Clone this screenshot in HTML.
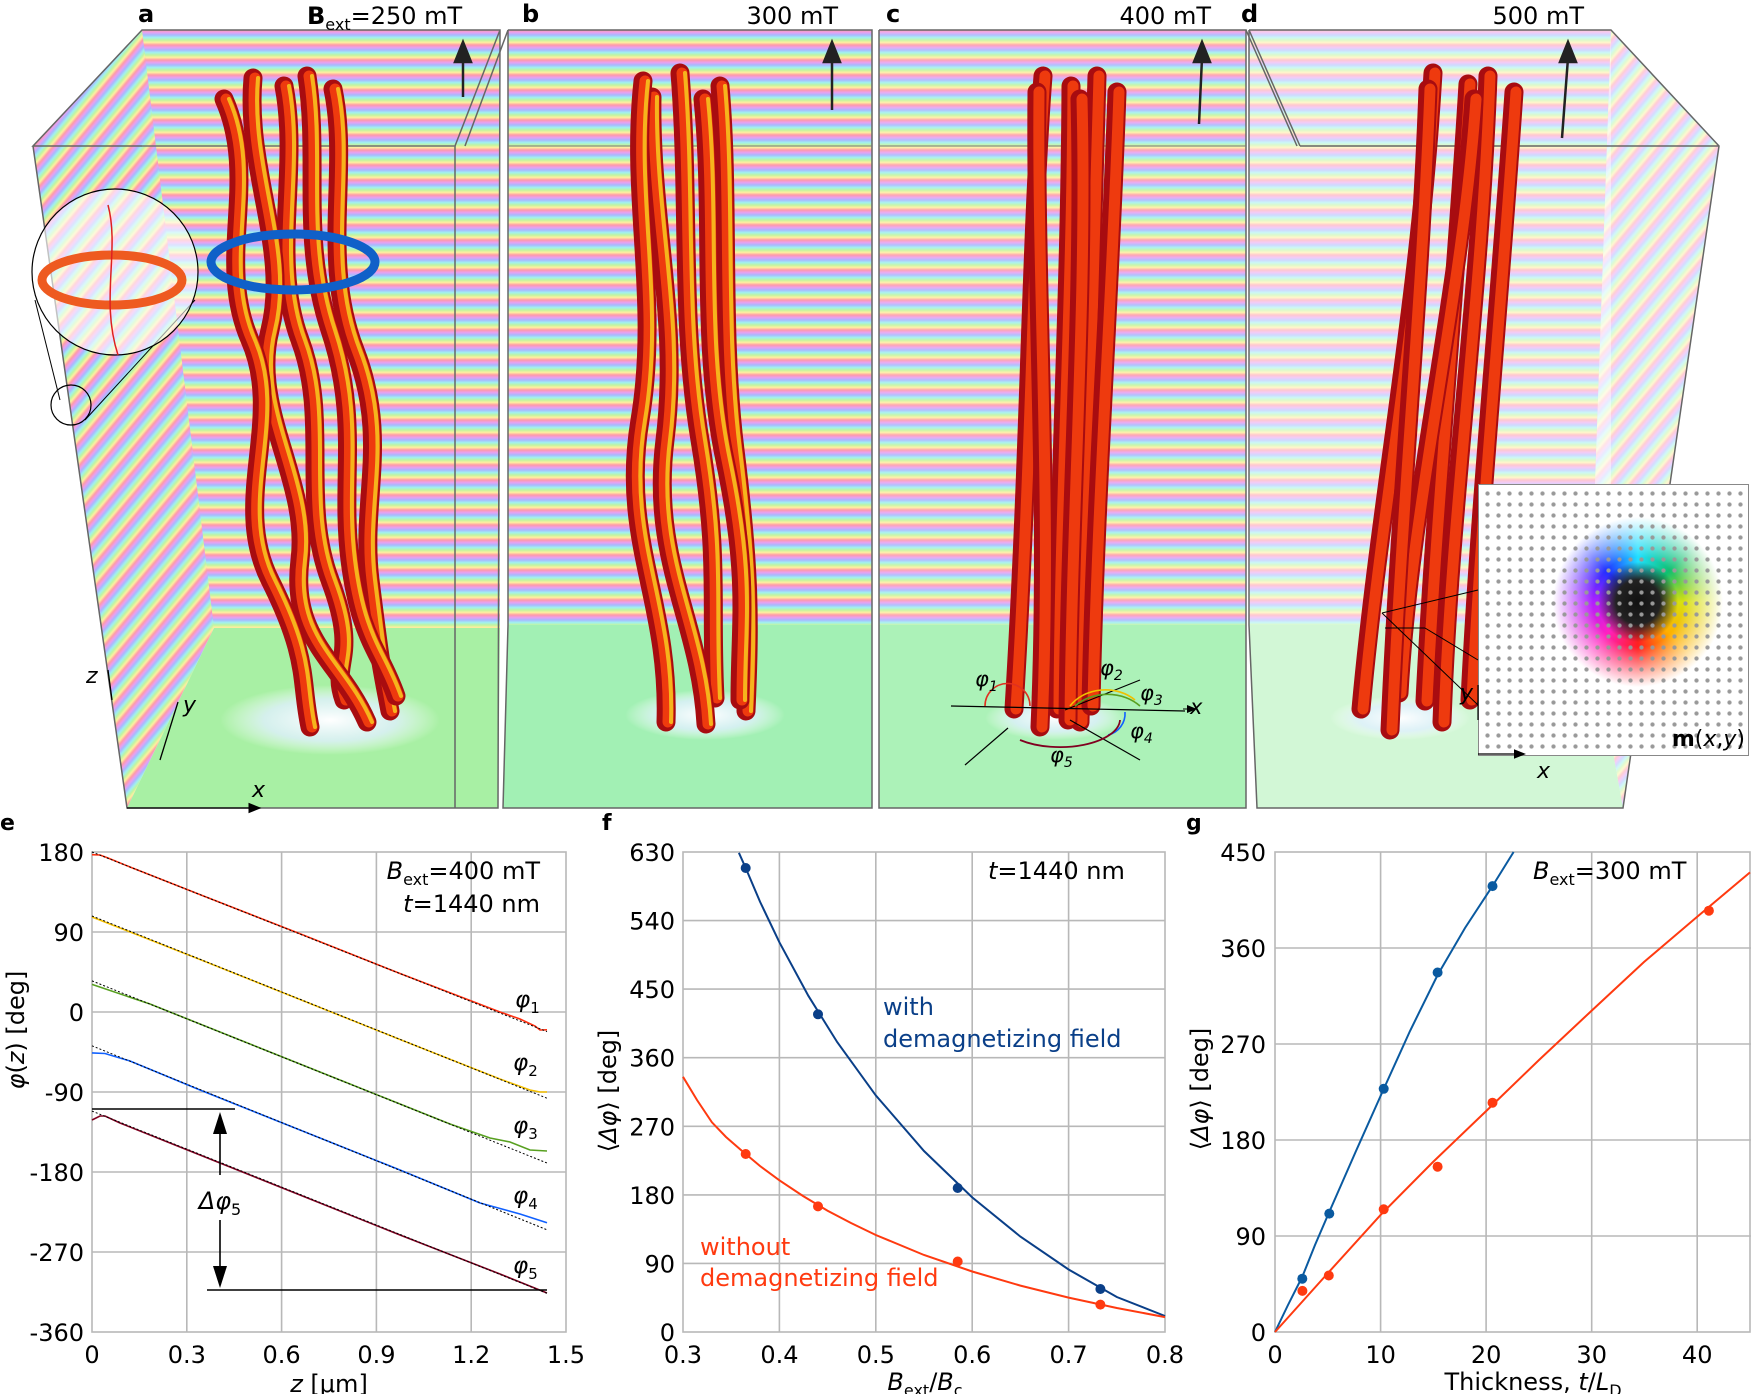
<!DOCTYPE html>
<html><head><meta charset="utf-8">
<style>
html,body{margin:0;padding:0;background:#fff;}
#wrap{position:relative;width:1751px;height:1394px;overflow:hidden;font-family:"DejaVu Sans","Liberation Sans",sans-serif;}
svg{position:absolute;left:0;top:0;}
.ta{stroke:#a80c10;stroke-width:19;fill:none;stroke-linecap:round}
.tb{stroke:#ee3a0e;stroke-width:11;fill:none;stroke-linecap:round;transform:translate(2px,0)}
.tc{stroke:#f6b41c;stroke-width:4;fill:none;stroke-linecap:round;transform:translate(5px,0)}
.grid{stroke:#b8b8b8;stroke-width:1.6;fill:none}
.tk{font-size:24px;fill:#000}
.dot{stroke:#000;stroke-width:1;stroke-dasharray:2 2;fill:none}
#vortex{position:absolute;left:1478px;top:484px;width:271px;height:272px;border:1px solid #888;box-sizing:border-box;
background:
 radial-gradient(circle,#999 1.6px,rgba(0,0,0,0) 2.6px) 3px 3px/11px 11px,
 radial-gradient(circle at 159px 117px,#111 0,#222 22px,rgba(0,0,0,0) 40px),
 radial-gradient(circle at 159px 117px,rgba(255,255,255,0) 45px,#fff 85px),
 conic-gradient(from 0deg at 159px 117px,#20e0ff,#10c070,#d8e010,#ffb000,#ff2020,#ff20c0,#b020ff,#2030ff,#20e0ff);}
</style></head><body><div id="wrap">
<svg width="1751" height="1394" viewBox="0 0 1751 1394" xmlns="http://www.w3.org/2000/svg">
<defs>
<linearGradient id="rg" x1="0" y1="0" x2="0" y2="1">
<stop offset="0" stop-color="#ff9aa8"/><stop offset="0.17" stop-color="#e8a0f0"/><stop offset="0.33" stop-color="#a8b8ff"/>
<stop offset="0.5" stop-color="#a0f0f0"/><stop offset="0.67" stop-color="#c0f5a0"/><stop offset="0.83" stop-color="#fff0a0"/><stop offset="1" stop-color="#ff9aa8"/>
</linearGradient>
<pattern id="st" width="20" height="15" patternUnits="userSpaceOnUse"><rect width="20" height="15" fill="url(#rg)"/></pattern>
<pattern id="sd" width="20" height="15" patternUnits="userSpaceOnUse" patternTransform="rotate(-50)"><rect width="20" height="15" fill="url(#rg)"/></pattern>
<radialGradient id="halo"><stop offset="0" stop-color="#fff"/><stop offset="0.6" stop-color="#e0f0ff" stop-opacity="0.8"/><stop offset="1" stop-color="#fff" stop-opacity="0"/></radialGradient>
<marker id="ar" markerWidth="10" markerHeight="10" refX="5" refY="5" orient="auto"><path d="M0,1 L10,5 L0,9 z" fill="#000"/></marker>
</defs>

<rect x="142" y="30" width="358" height="598" fill="url(#st)"/>
<polygon points="142,30 214,628 127,808 33,146" fill="url(#sd)"/>
<polygon points="214,628 500,628 498,808 127,808" fill="#a8f0a4"/>
<rect x="508" y="30" width="364" height="595" fill="url(#st)"/>
<polygon points="508,625 872,625 872,808 503,808" fill="#a2f0b4"/>
<rect x="879" y="30" width="367" height="595" fill="url(#st)"/>
<rect x="879" y="30" width="367" height="595" fill="#fff" opacity="0.12"/>
<polygon points="879,625 1246,625 1246,808 879,808" fill="#acf2b8"/>
<rect x="1249" y="30" width="362" height="595" fill="url(#st)"/>
<polygon points="1611,30 1719,146 1623,808 1590,625" fill="url(#sd)"/>
<rect x="1249" y="30" width="362" height="595" fill="#fff" opacity="0.45"/>
<polygon points="1611,30 1719,146 1623,808 1590,625" fill="#fff" opacity="0.5"/>
<polygon points="1249,625 1590,625 1623,808 1257,808" fill="#d2f7d6"/>

<g stroke="#666" stroke-width="1.5" fill="none">
<polyline points="33,146 127,808 498,808 500,30 142,30 33,146 455,146 500,30"/>
<line x1="455" y1="146" x2="455" y2="808"/>
<polyline points="508,30 872,30 872,808 503,808 508,625 508,30"/>
<line x1="508" y1="30" x2="465" y2="146"/>
<polyline points="879,30 1246,30 1246,808 879,808 879,30"/>
<polyline points="1249,30 1611,30 1719,146 1623,808 1257,808 1249,625 1249,30"/>
<line x1="1249" y1="30" x2="1300" y2="146"/><line x1="1300" y1="146" x2="1719" y2="146"/>
<line x1="1246" y1="30" x2="1297" y2="146"/>
</g>
<line x1="142" y1="146" x2="455" y2="146" stroke="#777" stroke-width="1"/>
<line x1="508" y1="146" x2="872" y2="146" stroke="#777" stroke-width="1"/>
<line x1="879" y1="146" x2="1246" y2="146" stroke="#777" stroke-width="1"/>

<ellipse cx="330" cy="720" rx="110" ry="35" fill="url(#halo)"/>
<ellipse cx="705" cy="715" rx="80" ry="25" fill="url(#halo)"/>
<ellipse cx="1055" cy="718" rx="70" ry="22" fill="url(#halo)"/>
<ellipse cx="1400" cy="718" rx="70" ry="22" fill="url(#halo)"/>

<defs>
<path id="a1" d="M224,99 C260,180 215,260 250,340 S230,500 270,580 S300,680 310,727"/>
<path id="a2" d="M253,78 C245,170 290,250 270,330 S310,480 300,560 S340,660 367,722"/>
<path id="a3" d="M284,86 C300,170 270,260 300,340 S300,500 330,580 S330,660 344,700"/>
<path id="a4" d="M307,76 C320,160 300,240 330,330 S340,480 350,560 S380,650 396,696"/>
<path id="a5" d="M333,89 C350,170 320,260 355,350 S360,500 370,580 S380,660 390,711"/>
<path id="b1" d="M643,81 C630,200 660,300 640,420 S670,600 666,722"/>
<path id="b2" d="M652,97 C650,220 680,320 665,440 S700,620 706,724"/>
<path id="b3" d="M680,73 C690,200 680,320 700,440 S710,600 715,698"/>
<path id="b4" d="M703,99 C715,220 700,340 725,460 S740,620 740,700"/>
<path id="b5" d="M720,86 C730,200 720,330 735,450 S750,620 746,711"/>
<path id="c1" d="M1043,76 C1030,250 1030,450 1014,709"/>
<path id="c2" d="M1037,92 C1035,300 1050,500 1040,727"/>
<path id="c3" d="M1071,86 C1070,300 1058,500 1057,709"/>
<path id="c4" d="M1097,76 C1090,300 1085,500 1080,722"/>
<path id="c5" d="M1117,92 C1110,300 1095,500 1091,706"/>
<path id="c6" d="M1080,99 C1085,300 1070,500 1068,720"/>
<path id="d1" d="M1433,73 C1420,300 1380,500 1361,709"/>
<path id="d2" d="M1428,89 C1420,300 1400,500 1390,730"/>
<path id="d3" d="M1468,84 C1455,300 1435,500 1425,701"/>
<path id="d4" d="M1488,76 C1480,300 1450,500 1442,722"/>
<path id="d5" d="M1514,92 C1500,300 1480,500 1470,700"/>
<path id="d6" d="M1474,99 C1460,300 1410,500 1399,693"/>
</defs>
<g>
<use href="#a5" class="ta"/><use href="#a5" class="tb"/><use href="#a5" class="tc"/>
<use href="#a4" class="ta"/><use href="#a4" class="tb"/><use href="#a4" class="tc"/>
<use href="#a3" class="ta"/><use href="#a3" class="tb"/><use href="#a3" class="tc"/>
<use href="#a2" class="ta"/><use href="#a2" class="tb"/><use href="#a2" class="tc"/>
<use href="#a1" class="ta"/><use href="#a1" class="tb"/><use href="#a1" class="tc"/>
<use href="#b5" class="ta"/><use href="#b5" class="tb"/><use href="#b5" class="tc"/>
<use href="#b4" class="ta"/><use href="#b4" class="tb"/><use href="#b4" class="tc"/>
<use href="#b3" class="ta"/><use href="#b3" class="tb"/><use href="#b3" class="tc"/>
<use href="#b2" class="ta"/><use href="#b2" class="tb"/><use href="#b2" class="tc"/>
<use href="#b1" class="ta"/><use href="#b1" class="tb"/><use href="#b1" class="tc"/>
<use href="#c1" class="ta"/><use href="#c1" class="tb"/>
<use href="#c3" class="ta"/><use href="#c3" class="tb"/>
<use href="#c4" class="ta"/><use href="#c4" class="tb"/>
<use href="#c5" class="ta"/><use href="#c5" class="tb"/>
<use href="#c6" class="ta"/><use href="#c6" class="tb"/>
<use href="#c2" class="ta"/><use href="#c2" class="tb"/>
<use href="#d1" class="ta"/><use href="#d1" class="tb"/>
<use href="#d3" class="ta"/><use href="#d3" class="tb"/>
<use href="#d4" class="ta"/><use href="#d4" class="tb"/>
<use href="#d5" class="ta"/><use href="#d5" class="tb"/>
<use href="#d6" class="ta"/><use href="#d6" class="tb"/>
<use href="#d2" class="ta"/><use href="#d2" class="tb"/>
</g>

<ellipse cx="293" cy="262" rx="82" ry="28" fill="none" stroke="#1060c8" stroke-width="9"/>
<line x1="35" y1="300" x2="60" y2="400" stroke="#000" stroke-width="1"/>
<line x1="195" y1="300" x2="85" y2="420" stroke="#000" stroke-width="1"/>
<circle cx="115" cy="272" r="83" fill="#fff" fill-opacity="0.6" stroke="#000" stroke-width="1.2"/>
<circle cx="71" cy="405" r="20" fill="none" stroke="#000" stroke-width="1.2"/>
<ellipse cx="112" cy="280" rx="70" ry="25" fill="none" stroke="#ee5a20" stroke-width="9"/>
<path d="M108,205 C120,250 100,300 118,355" stroke="#e02020" stroke-width="1.5" fill="none"/>

<g stroke="#222" stroke-width="2.5" fill="#222">
<line x1="463" y1="97" x2="463" y2="58"/><polygon points="455,62 463,42 471,62"/>
<line x1="832" y1="110" x2="832" y2="58"/><polygon points="824,62 832,42 840,62"/>
<line x1="1199" y1="124" x2="1202" y2="58"/><polygon points="1194,62 1202,42 1210,62"/>
<line x1="1562" y1="138" x2="1568" y2="58"/><polygon points="1560,62 1568,42 1576,62"/>
</g>

<g stroke="#000" stroke-width="1.3">
<line x1="127" y1="808" x2="255" y2="808" marker-end="url(#ar)"/>
<line x1="112" y1="700" x2="108" y2="670"/>
<line x1="160" y1="760" x2="178" y2="702"/>
</g>
<text x="252" y="797" font-size="22" font-style="italic">x</text>
<text x="86" y="683" font-size="22" font-style="italic">z</text>
<text x="183" y="712" font-size="22" font-style="italic">y</text>

<line x1="951" y1="706" x2="1185" y2="711" stroke="#000" stroke-width="1.2"/>
<line x1="1008" y1="728" x2="965" y2="765" stroke="#000" stroke-width="1.2"/>
<line x1="1065" y1="710" x2="1140" y2="680" stroke="#000" stroke-width="1.2"/>
<line x1="1070" y1="720" x2="1140" y2="760" stroke="#000" stroke-width="1.2"/>
<path d="M985,706 A22,22 0 0 1 1030,706" stroke="#e03020" stroke-width="1.6" fill="none"/>
<path d="M1070,706 A42,35 0 0 1 1135,700" stroke="#f0c000" stroke-width="1.6" fill="none"/>
<path d="M1075,706 A45,38 0 0 1 1140,706" stroke="#58a020" stroke-width="1.6" fill="none"/>
<path d="M1125,712 A22,22 0 0 1 1108,735" stroke="#1060ff" stroke-width="1.6" fill="none"/>
<path d="M1020,740 A60,28 0 0 0 1120,720" stroke="#800020" stroke-width="1.8" fill="none"/>
<g font-size="21" font-style="italic">
<text x="975" y="686">φ<tspan font-size="14" dy="5">1</tspan></text>
<text x="1100" y="675">φ<tspan font-size="14" dy="5">2</tspan></text>
<text x="1140" y="700">φ<tspan font-size="14" dy="5">3</tspan></text>
<text x="1130" y="738">φ<tspan font-size="14" dy="5">4</tspan></text>
<text x="1050" y="762">φ<tspan font-size="14" dy="5">5</tspan></text>
<text x="1190" y="714">x</text>
</g>
<line x1="1183" y1="709" x2="1192" y2="709" stroke="#000" marker-end="url(#ar)"/>

<g stroke="#000" stroke-width="1">
<line x1="1382" y1="613" x2="1478" y2="590"/>
<line x1="1382" y1="613" x2="1478" y2="705"/>
<line x1="1385" y1="628" x2="1425" y2="628"/>
<line x1="1425" y1="628" x2="1478" y2="660"/>
</g>

<g font-size="24" font-weight="bold"><text x="138" y="22">a</text><text x="522" y="22">b</text><text x="886" y="22">c</text><text x="1241" y="22">d</text></g>
<g font-size="24">
<text x="307" y="24"><tspan font-weight="bold">B</tspan><tspan font-size="16" dy="6">ext</tspan><tspan dy="-6">=250 mT</tspan></text>
<text x="838" y="24" text-anchor="end">300 mT</text>
<text x="1211" y="24" text-anchor="end">400 mT</text>
<text x="1584" y="24" text-anchor="end">500 mT</text>
</g>
<g font-size="22" font-weight="bold"><text x="0" y="830">e</text><text x="602" y="830">f</text><text x="1186" y="830">g</text></g>

<!-- ===== Panel e ===== -->
<g class="grid">
<line x1="186.8" y1="852" x2="186.8" y2="1332"/><line x1="281.6" y1="852" x2="281.6" y2="1332"/><line x1="376.4" y1="852" x2="376.4" y2="1332"/><line x1="471.2" y1="852" x2="471.2" y2="1332"/>
<line x1="92" y1="932" x2="566" y2="932"/><line x1="92" y1="1012" x2="566" y2="1012"/><line x1="92" y1="1092" x2="566" y2="1092"/><line x1="92" y1="1172" x2="566" y2="1172"/><line x1="92" y1="1252" x2="566" y2="1252"/>
<rect x="92" y="852" width="474" height="480"/>
</g>
<g class="tk" text-anchor="end">
<text x="84" y="861">180</text><text x="84" y="941">90</text><text x="84" y="1021">0</text><text x="84" y="1101">-90</text><text x="84" y="1181">-180</text><text x="84" y="1261">-270</text><text x="84" y="1341">-360</text>
</g>
<g class="tk" text-anchor="middle">
<text x="92" y="1363">0</text><text x="186.8" y="1363">0.3</text><text x="281.6" y="1363">0.6</text><text x="376.4" y="1363">0.9</text><text x="471.2" y="1363">1.2</text><text x="566" y="1363">1.5</text>
</g>
<text x="329" y="1392" font-size="24" text-anchor="middle"><tspan font-style="italic">z</tspan> [μm]</text>
<text transform="translate(24,1030) rotate(-90)" font-size="24" text-anchor="middle"><tspan font-style="italic">φ</tspan>(<tspan font-style="italic">z</tspan>) [deg]</text>
<g fill="none" stroke-width="1.6">
<polyline stroke="#ff3010" points="92,854.7 100,855 108,858 130,867 200,894.6 300,933.8 400,973.5 500,1012 520,1019 535,1026 540,1030 547,1029.8"/>
<polyline stroke="#f5c000" points="92,917 200,959.5 300,999.5 400,1039.5 500,1079 530,1090 540,1092 547,1092"/>
<polyline stroke="#58a020" points="92,984.4 150,1004 250,1044 350,1084 450,1124 490,1138 510,1142 530,1150 547,1151"/>
<polyline stroke="#1060ff" points="92,1052.9 105,1053.5 130,1061 200,1090 300,1130 400,1170 480,1203 520,1214 547,1222.7"/>
<polyline stroke="#800020" points="92,1120 100,1116 105,1116 120,1123 200,1155 300,1195 400,1235 500,1274 547,1293"/>
</g>
<g class="dot">
<line x1="92" y1="852" x2="547" y2="1031.6"/><line x1="92" y1="916" x2="547" y2="1098.2"/><line x1="92" y1="980.9" x2="547" y2="1163"/><line x1="92" y1="1045.8" x2="547" y2="1229.8"/><line x1="92" y1="1111.1" x2="547" y2="1293.3"/>
</g>
<g stroke="#000" stroke-width="1.6">
<line x1="92" y1="1109" x2="235" y2="1109"/><line x1="207" y1="1290" x2="547" y2="1290"/>
<line x1="220" y1="1122" x2="220" y2="1175"/><line x1="220" y1="1220" x2="220" y2="1278"/>
</g>
<polygon points="220,1112 213,1134 227,1134" fill="#000"/><polygon points="220,1288 213,1266 227,1266" fill="#000"/>
<text x="220" y="1209" font-size="24" text-anchor="middle" font-style="italic">Δφ<tspan font-size="16" dy="6" font-style="normal">5</tspan></text>
<g font-size="23" font-style="italic">
<text x="515" y="1007">φ<tspan font-size="15" dy="6" font-style="normal">1</tspan></text>
<text x="513" y="1070">φ<tspan font-size="15" dy="6" font-style="normal">2</tspan></text>
<text x="513" y="1133">φ<tspan font-size="15" dy="6" font-style="normal">3</tspan></text>
<text x="513" y="1203">φ<tspan font-size="15" dy="6" font-style="normal">4</tspan></text>
<text x="513" y="1273">φ<tspan font-size="15" dy="6" font-style="normal">5</tspan></text>
</g>
<text x="540" y="879" font-size="24" text-anchor="end"><tspan font-style="italic">B</tspan><tspan font-size="16" dy="6">ext</tspan><tspan dy="-6">=400 mT</tspan></text>
<text x="540" y="912" font-size="24" text-anchor="end"><tspan font-style="italic">t</tspan>=1440 nm</text>

<!-- ===== Panel f ===== -->
<g class="grid">
<line x1="779.4" y1="852" x2="779.4" y2="1332"/><line x1="875.8" y1="852" x2="875.8" y2="1332"/><line x1="972.2" y1="852" x2="972.2" y2="1332"/><line x1="1068.6" y1="852" x2="1068.6" y2="1332"/>
<line x1="683" y1="920.6" x2="1165" y2="920.6"/><line x1="683" y1="989.1" x2="1165" y2="989.1"/><line x1="683" y1="1057.7" x2="1165" y2="1057.7"/><line x1="683" y1="1126.3" x2="1165" y2="1126.3"/><line x1="683" y1="1194.9" x2="1165" y2="1194.9"/><line x1="683" y1="1263.4" x2="1165" y2="1263.4"/>
<rect x="683" y="852" width="482" height="480"/>
</g>
<g class="tk" text-anchor="end">
<text x="675" y="861">630</text><text x="675" y="929.6">540</text><text x="675" y="998.1">450</text><text x="675" y="1066.7">360</text><text x="675" y="1135.3">270</text><text x="675" y="1203.9">180</text><text x="675" y="1272.4">90</text><text x="675" y="1341">0</text>
</g>
<g class="tk" text-anchor="middle">
<text x="683" y="1363">0.3</text><text x="779.4" y="1363">0.4</text><text x="875.8" y="1363">0.5</text><text x="972.2" y="1363">0.6</text><text x="1068.6" y="1363">0.7</text><text x="1165" y="1363">0.8</text>
</g>
<text x="925" y="1390" font-size="24" text-anchor="middle"><tspan font-style="italic">B</tspan><tspan font-size="16" dy="6">ext</tspan><tspan dy="-6">/</tspan><tspan font-style="italic">B</tspan><tspan font-size="16" dy="6">c</tspan></text>
<text transform="translate(616,1091) rotate(-90)" font-size="24" text-anchor="middle">⟨<tspan font-style="italic">Δφ</tspan>⟩ [deg]</text>
<polyline fill="none" stroke="#0a3f88" stroke-width="2" points="738.9,852.8 745.7,868 760.1,901.9 779.4,942.3 808.3,995.7 837.2,1042.1 875.8,1095.4 924,1151 972.2,1197.4 1020.4,1236.6 1068.6,1269.5 1116.8,1297 1165,1316"/>
<polyline fill="none" stroke="#ff3a10" stroke-width="2" points="683,1076.8 697,1100 711.9,1122.3 726,1137 740.8,1149.9 760,1166 779.4,1180.3 803,1196 827.6,1210.7 851,1223 875.8,1235 924,1255 972.2,1271.5 1020.4,1285.6 1068.6,1297.6 1116.8,1308 1165,1317.1"/>
<g fill="#0a3f88"><circle cx="745.7" cy="868" r="5"/><circle cx="818" cy="1014.3" r="5"/><circle cx="957.7" cy="1188" r="5"/><circle cx="1100.4" cy="1289" r="5"/></g>
<g fill="#ff3a10"><circle cx="745.7" cy="1154" r="5"/><circle cx="818" cy="1206.4" r="5"/><circle cx="957.7" cy="1261.5" r="5"/><circle cx="1100.4" cy="1304.6" r="5"/></g>
<text x="883" y="1015" font-size="24" fill="#0a3f88">with</text>
<text x="883" y="1047" font-size="24" fill="#0a3f88">demagnetizing field</text>
<text x="700" y="1255" font-size="24" fill="#ff3a10">without</text>
<text x="700" y="1286" font-size="24" fill="#ff3a10">demagnetizing field</text>
<text x="988" y="879" font-size="24"><tspan font-style="italic">t</tspan>=1440 nm</text>

<!-- ===== Panel g ===== -->
<g class="grid">
<line x1="1380.6" y1="852" x2="1380.6" y2="1332"/><line x1="1486.1" y1="852" x2="1486.1" y2="1332"/><line x1="1591.7" y1="852" x2="1591.7" y2="1332"/><line x1="1697.2" y1="852" x2="1697.2" y2="1332"/>
<line x1="1275" y1="948" x2="1751" y2="948"/><line x1="1275" y1="1044" x2="1751" y2="1044"/><line x1="1275" y1="1140" x2="1751" y2="1140"/><line x1="1275" y1="1236" x2="1751" y2="1236"/>
<rect x="1275" y="852" width="475" height="480"/>
</g>
<g class="tk" text-anchor="end">
<text x="1266" y="861">450</text><text x="1266" y="957">360</text><text x="1266" y="1053">270</text><text x="1266" y="1149">180</text><text x="1266" y="1245">90</text><text x="1266" y="1341">0</text>
</g>
<g class="tk" text-anchor="middle">
<text x="1275" y="1363">0</text><text x="1380.6" y="1363">10</text><text x="1486.1" y="1363">20</text><text x="1591.7" y="1363">30</text><text x="1697.2" y="1363">40</text>
</g>
<text x="1533" y="1390" font-size="24" text-anchor="middle">Thickness, <tspan font-style="italic">t</tspan>/<tspan font-style="italic">L</tspan><tspan font-size="16" dy="6">D</tspan></text>
<text transform="translate(1208,1089) rotate(-90)" font-size="24" text-anchor="middle">⟨<tspan font-style="italic">Δφ</tspan>⟩ [deg]</text>
<polyline fill="none" stroke="#0a5aa0" stroke-width="2" points="1275,1332 1288,1305 1302.4,1276.5 1315,1245 1328.8,1213 1356,1151 1383.7,1089 1410,1031 1437.6,975 1465,928 1492.5,886 1513.6,852"/>
<polyline fill="none" stroke="#ff3a10" stroke-width="2" points="1275,1332 1328,1273 1380.6,1214.9 1433,1162 1486.1,1111.1 1539,1060 1591.7,1010.6 1644,962 1697.2,916.7 1750,872.4"/>
<g fill="#0a5aa0"><circle cx="1302.3" cy="1278.7" r="5"/><circle cx="1329.3" cy="1213.6" r="5"/><circle cx="1383.7" cy="1088.8" r="5"/><circle cx="1437.6" cy="972.5" r="5"/><circle cx="1492.5" cy="886.1" r="5"/></g>
<g fill="#ff3a10"><circle cx="1302.4" cy="1290.9" r="5"/><circle cx="1328.8" cy="1275.5" r="5"/><circle cx="1383.7" cy="1209.3" r="5"/><circle cx="1437.6" cy="1166.7" r="5"/><circle cx="1492.5" cy="1102.7" r="5"/><circle cx="1708.9" cy="910.7" r="5"/></g>
<text x="1533" y="879" font-size="24"><tspan font-style="italic">B</tspan><tspan font-size="16" dy="6">ext</tspan><tspan dy="-6">=300 mT</tspan></text>
</svg>
<div id="vortex"></div>
<svg width="1751" height="1394" style="pointer-events:none">
<defs><marker id="ar2" markerWidth="10" markerHeight="10" refX="5" refY="5" orient="auto"><path d="M0,1 L10,5 L0,9 z" fill="#000"/></marker></defs>
<text x="1745" y="746" font-size="22" text-anchor="end"><tspan font-weight="bold">m</tspan>(<tspan font-style="italic">x</tspan>,<tspan font-style="italic">y</tspan>)</text>
<g stroke="#000" stroke-width="1.2"><line x1="1478" y1="754" x2="1520" y2="754" marker-end="url(#ar2)"/><line x1="1478" y1="720" x2="1478" y2="685"/></g>
<text x="1537" y="778" font-size="22" font-style="italic">x</text>
<text x="1460" y="700" font-size="22" font-style="italic">y</text>
</svg>
</div></body></html>
